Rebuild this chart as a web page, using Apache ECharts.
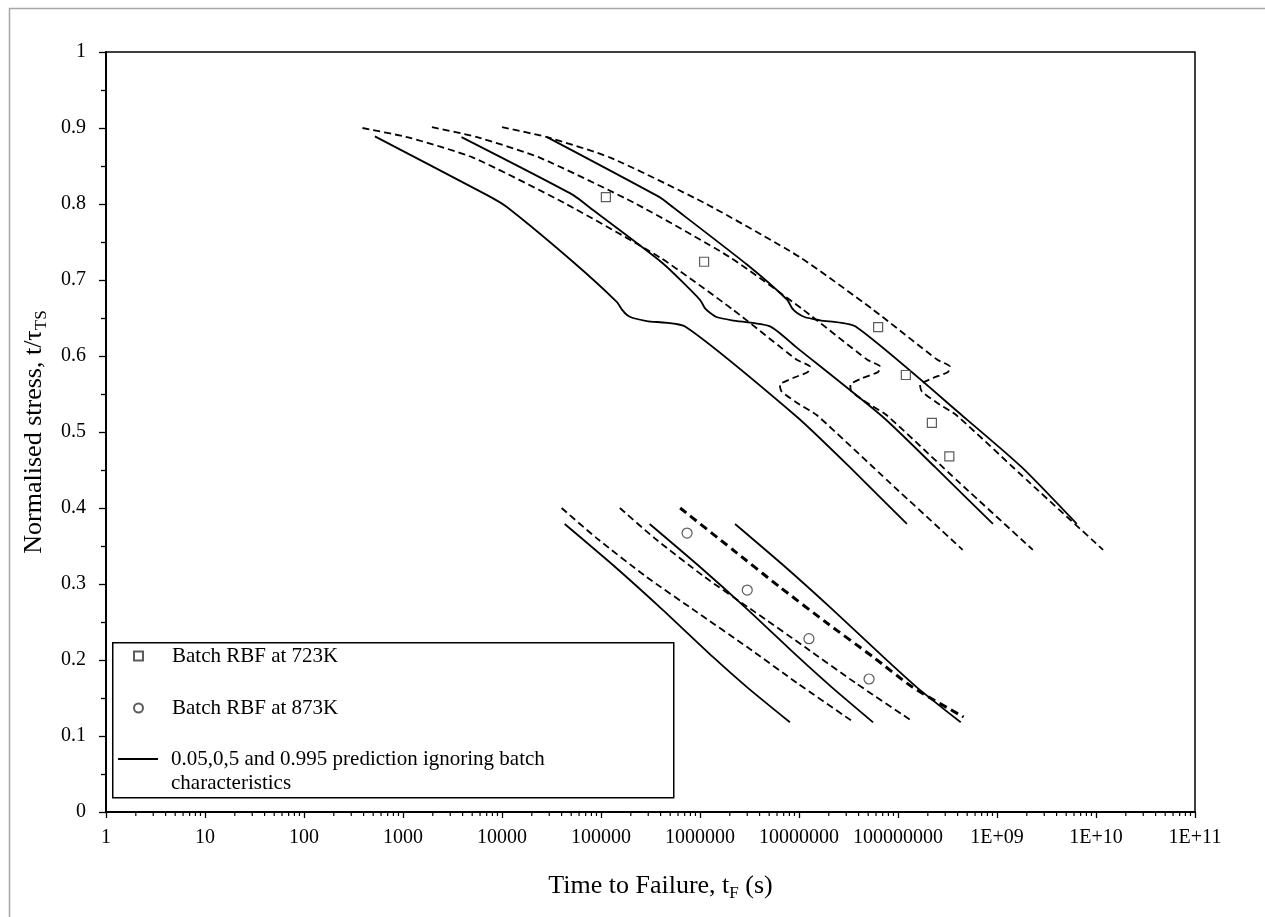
<!DOCTYPE html>
<html><head><meta charset="utf-8">
<script src="https://cdn.jsdelivr.net/npm/echarts@6/dist/echarts.min.js"></script>
<style>html,body{margin:0;padding:0;background:#fff}#c{width:1265px;height:917px}</style>
</head><body><div id="c"></div>
<script>
const FONT = "'Liberation Serif','Times New Roman',serif";

// ---- tick labels ----
const xTickLabels = ['1','10','100','1000','10000','100000','1000000','10000000','100000000','1E+09','1E+10','1E+11'];
const xDecades = [1,10,100,1000,1e4,1e5,1e6,1e7,1e8,1e9,1e10];
const xMinorMultipliers = [2,3,4,5,6,7,8,9];

// ---- measured data (time to failure [s], normalised stress) ----
const batch723 = [[1.12e5,0.809],[1.1e6,0.724],[6.3e7,0.638],[1.2e8,0.575],[2.2e8,0.512],[3.3e8,0.468]];
const batch873 = [[7.4e5,0.367],[3.0e6,0.292],[1.26e7,0.228],[5.1e7,0.175]];

// ---- predictions ignoring batch characteristics (solid) ----
const predU1 = [[5.2e2,0.889],[7.0e3,0.812],[1.12e4,0.796],[5.2e4,0.724],[1.45e5,0.671],[1.63e5,0.661],[1.83e5,0.654],[2.1e5,0.650],[2.9e5,0.646],[7.0e5,0.639],[9.5e6,0.520],[3.3e7,0.453],[1.23e8,0.379]];
const predU2 = [[3.9e3,0.888],[5.2e4,0.812],[8.3e4,0.792],[4.2e5,0.722],[1.0e6,0.674],[1.12e6,0.663],[1.26e6,0.657],[1.49e6,0.651],[2.1e6,0.647],[5.1e6,0.639],[9.5e6,0.611],[7.0e7,0.520],[2.4e8,0.453],[9.1e8,0.379]];
const predU3 = [[2.85e4,0.888],[3.9e5,0.809],[5.3e5,0.796],[3.0e6,0.720],[7.6e6,0.674],[8.5e6,0.663],[9.5e6,0.657],[1.15e7,0.651],[1.63e7,0.647],[3.7e7,0.639],[5.0e8,0.516],[1.8e9,0.453],[6.4e9,0.379]];
const predL1 = [[4.3e4,0.379],[1.32e5,0.325],[4.2e5,0.266],[1.35e6,0.204],[3.0e6,0.164],[8.1e6,0.118]];
const predL2 = [[3.1e5,0.379],[9.5e5,0.325],[3.05e6,0.266],[9.8e6,0.204],[2.15e7,0.164],[5.6e7,0.118]];
const predL3 = [[2.26e6,0.379],[6.9e6,0.325],[2.2e7,0.266],[7.1e7,0.204],[1.55e8,0.164],[4.3e8,0.118]];

// ---- batch predictions (dashed) ----
const batchU1 = [[3.9e2,0.900],[1.18e3,0.887],[5.1e3,0.861],[4.3e4,0.801],[3.9e5,0.730],[2.15e6,0.661],[9.5e6,0.595],[1.29e7,0.586],[1.23e7,0.579],[8.7e6,0.571],[6.4e6,0.562],[6.7e6,0.553],[1.02e7,0.536],[1.52e7,0.522],[8.3e7,0.433],[4.5e8,0.345]];
const batchU2 = [[1.96e3,0.901],[5.6e3,0.888],[2.4e4,0.861],[2.2e5,0.801],[2.0e6,0.730],[1.1e7,0.661],[4.9e7,0.595],[6.6e7,0.586],[6.3e7,0.579],[4.4e7,0.571],[3.3e7,0.562],[3.4e7,0.553],[5.2e7,0.536],[7.7e7,0.522],[4.2e8,0.433],[2.3e9,0.345]];
const batchU3 = [[1.0e4,0.901],[2.85e4,0.888],[1.24e5,0.861],[1.12e6,0.801],[1.02e7,0.730],[5.6e7,0.661],[2.5e8,0.595],[3.35e8,0.586],[3.2e8,0.579],[2.26e8,0.571],[1.67e8,0.562],[1.75e8,0.553],[2.65e8,0.536],[3.9e8,0.522],[2.15e9,0.433],[1.18e10,0.345]];
const batchL1 = [[4.0e4,0.400],[9.1e4,0.360],[2.9e5,0.309],[9.3e5,0.263],[3.0e6,0.217],[9.5e6,0.170],[3.4e7,0.120]];
const batchL2 = [[1.55e5,0.400],[3.5e5,0.360],[1.12e6,0.309],[3.6e6,0.263],[1.15e7,0.217],[3.7e7,0.170],[1.38e8,0.120]];
const batchL3 = [[6.3e5,0.400],[2.15e6,0.345],[6.4e6,0.296],[1.9e7,0.249],[5.6e7,0.204],[1.41e8,0.164],[4.6e8,0.125]];

const NAME_723 = 'Batch RBF at 723K';
const NAME_873 = 'Batch RBF at 873K';
const NAME_PRED = '0.05,0,5 and 0.995 prediction ignoring batch\ncharacteristics';

const xMinorTicks = [];
xDecades.forEach(d => xMinorMultipliers.forEach(m => xMinorTicks.push([m * d, 0])));

function solid(data) {
  return {type:'line', name: NAME_PRED, data, symbol:'none', smooth:0.2, silent:true,
    lineStyle:{color:'#000', width:1.8}, itemStyle:{color:'#000'}, z:3};
}
function dashed(data, w, dash) {
  return {type:'line', name:'batch prediction', data, symbol:'none', smooth:0.2, silent:true,
    lineStyle:{color:'#000', width:w || 1.8, type: dash || [7,4]}, z:3};
}
const legendText = {fontFamily:FONT, fontSize:21, color:'#000', lineHeight:24};
const titleRich = {
  a:{fontFamily:FONT, fontSize:26, color:'#000', lineHeight:32},
  s:{fontFamily:FONT, fontSize:17, color:'#000', verticalAlign:'bottom', lineHeight:20}
};

const chart = echarts.init(document.getElementById('c'), null, {renderer:'canvas'});
chart.setOption({
  animation:false,
  backgroundColor:'#fff',
  textStyle:{fontFamily:FONT},
  graphic:[
    {type:'rect', left:7, top:6, shape:{width:1300, height:950}, style:{fill:'none', stroke:'#a6a6a6', lineWidth:1.5}, silent:true, z:-10},
    {type:'rect', left:112, top:642, shape:{width:561, height:155}, style:{fill:'#fff', stroke:'#000', lineWidth:1.5}, silent:true, z:5}
  ],
  grid:{left:106, right:70, top:52, bottom:105, show:true, borderColor:'#000', borderWidth:1.5, containLabel:false},
  legend:[
    {data:[{name:NAME_723, icon:'rect'}], left:133, top:644, itemWidth:9, itemHeight:9, selectedMode:false, z:10, padding:0,
      textStyle:Object.assign({}, legendText, {padding:[0,0,0,24]})},
    {data:[{name:NAME_873, icon:'circle'}], left:133, top:696, itemWidth:9, itemHeight:9, selectedMode:false, z:10, padding:0,
      textStyle:Object.assign({}, legendText, {padding:[0,0,0,24]})},
    {data:[{name:NAME_PRED, icon:'rect'}], left:118, top:723, itemWidth:40, itemHeight:2, selectedMode:false, z:10, padding:0,
      formatter: n => '\n' + n,
      textStyle:Object.assign({}, legendText, {padding:[0,0,0,8]})}
  ],
  xAxis:{type:'log', logBase:10, min:1, max:1e11, interval:1,
    name:'{a|Time to Failure, t}{s|F}{a| (s)}', nameLocation:'middle', nameGap:58,
    nameTextStyle:{rich:titleRich, padding:[0,0,0,20]},
    axisLine:{lineStyle:{color:'#000', width:2}},
    axisTick:{show:true, inside:false, length:6, lineStyle:{color:'#000', width:1.3}},
    splitLine:{show:false},
    axisLabel:{fontFamily:FONT, fontSize:20, color:'#000', margin:16,
      formatter: v => xTickLabels[Math.round(Math.log10(v))]}
  },
  yAxis:{type:'value', min:0, max:1, interval:0.1,
    name:'{a|Normalised stress, t/τ}{s|TS}', nameLocation:'middle', nameGap:45, nameRotate:90,
    nameTextStyle:{rich:titleRich},
    axisLine:{show:true, lineStyle:{color:'#000', width:2}},
    axisTick:{show:true, inside:false, length:7, lineStyle:{color:'#000', width:1.3}},
    minorTick:{show:true, splitNumber:2, length:5, lineStyle:{color:'#000', width:1.3}},
    splitLine:{show:false},
    axisLabel:{fontFamily:FONT, fontSize:20, color:'#000', margin:20}
  },
  series:[
    {type:'custom', name:'minor', coordinateSystem:'cartesian2d', data:xMinorTicks, silent:true, clip:false, z:1,
      renderItem:(p, api) => {
        const pt = api.coord([api.value(0), 0]);
        return {type:'line', shape:{x1:pt[0], y1:pt[1], x2:pt[0], y2:pt[1] + 4}, style:{stroke:'#000', lineWidth:1.2}};
      }},
    solid(predU1), solid(predU2), solid(predU3),
    solid(predL1), solid(predL2), solid(predL3),
    dashed(batchU1), dashed(batchU2), dashed(batchU3),
    dashed(batchL1), dashed(batchL2), dashed(batchL3, 3, [8,5]),
    {type:'scatter', name:NAME_723, data:batch723, symbol:'rect', symbolSize:9, silent:true, z:6,
      itemStyle:{color:'#fff', borderColor:'#333', borderWidth:1.2}},
    {type:'scatter', name:NAME_873, data:batch873, symbol:'circle', symbolSize:10, silent:true, z:6,
      itemStyle:{color:'#fff', borderColor:'#333', borderWidth:1.2}}
  ]
});
</script></body></html>
